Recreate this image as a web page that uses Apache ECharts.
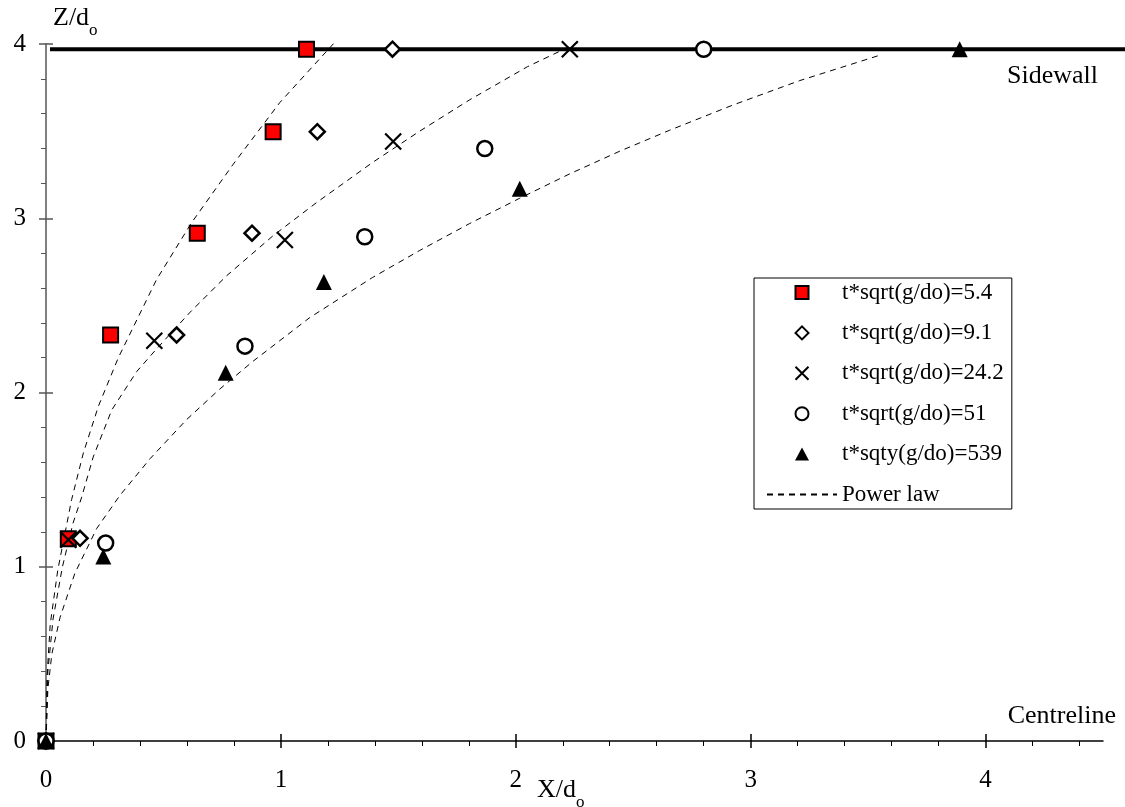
<!DOCTYPE html>
<html><head><meta charset="utf-8">
<script src="https://cdn.jsdelivr.net/npm/echarts@6/dist/echarts.min.js"></script>
<style>html,body{margin:0;padding:0;background:#fff}#c{width:1125px;height:807px}</style>
</head><body><div id="c"></div>
<script>
// ---- data ----
const xTickValues = [0, 1, 2, 3, 4];
const xMinorTickValues = [0.2,0.4,0.6,0.8,1.2,1.4,1.6,1.8,2.2,2.4,2.6,2.8,3.2,3.4,3.6,3.8,4.2,4.4];
const yTickValues = [0, 1, 2, 3, 4];
const sidewallZ = 3.97;
const sidewallStartX = 0.017;
const sidewallEndX = 4.6;

const seriesNames = ['t*sqrt(g/do)=5.4', 't*sqrt(g/do)=9.1', 't*sqrt(g/do)=24.2', 't*sqrt(g/do)=51', 't*sqty(g/do)=539'];
const data54  = [[0,0],[0.095,1.16],[0.275,2.33],[0.644,2.914],[0.967,3.497],[1.109,3.97]];
const data91  = [[0,0],[0.145,1.163],[0.556,2.33],[0.877,2.914],[1.155,3.497],[1.475,3.97]];
const data242 = [[0,0],[0.095,1.155],[0.461,2.297],[1.017,2.875],[1.478,3.44],[2.23,3.97]];
const data51  = [[0,0],[0.254,1.136],[0.847,2.266],[1.357,2.894],[1.868,3.40],[2.80,3.97]];
const data539 = [[0,0],[0.244,1.059],[0.765,2.113],[1.183,2.634],[2.017,3.17],[3.89,3.97]];

const powerLaw1 = [[0,0],[0.004,0.36],[0.018,0.67],[0.05,0.98],[0.109,1.385],[0.159,1.653],[0.223,1.921],[0.308,2.2],[0.471,2.649],[0.62,2.975],[0.797,3.31],[0.996,3.665],[1.243,4.03]];
const powerLaw2 = [[0,0],[0.008,0.40],[0.03,0.70],[0.07,1.0],[0.115,1.25],[0.152,1.40],[0.201,1.63],[0.28,1.90],[0.386,2.12],[0.464,2.24],[0.613,2.46],[0.769,2.67],[0.967,2.90],[1.152,3.09],[1.39,3.32],[1.591,3.50],[1.804,3.68],[2.05,3.87],[2.33,4.05]];
const powerLaw3 = [[0,0],[0.008,0.3],[0.025,0.5],[0.06,0.71],[0.123,0.963],[0.216,1.22],[0.315,1.41],[0.443,1.62],[0.599,1.845],[0.74,2.02],[0.882,2.18],[1.123,2.43],[1.39,2.66],[1.591,2.815],[1.804,2.97],[2.017,3.115],[2.23,3.255],[2.443,3.385],[2.655,3.505],[2.925,3.65],[3.209,3.79],[3.56,3.94]];

// ---- styles ----
const FONT = 'Liberation Serif';
const SYM_SQUARE = 'path://M0,0L14,0L14,14L0,14Z';
const SYM_DIAMOND = 'path://M7,0L14,7L7,14L0,7Z';
const SYM_CROSS = 'path://M0,0L14,14M14,0L0,14';
const SYM_TRI = 'path://M7,0L14,13L0,13Z';

const chart = echarts.init(document.getElementById('c'), null, {renderer: 'canvas'});

function powerSeries(d) {
  return {
    name: 'Power law', type: 'line', data: d, symbol: 'none', smooth: false,
    itemStyle: {color: 'rgba(0,0,0,0)'},
    lineStyle: {color: '#000', width: 1, type: [6, 5]}, z: 2, silent: true
  };
}
function scatterSeries(name, d, symbol, size, itemStyle) {
  return {name, type: 'scatter', data: d, symbol, symbolSize: size,
    itemStyle: Object.assign({opacity: 1}, itemStyle), z: 5, silent: true};
}

const option = {
  animation: false,
  backgroundColor: '#fff',
  grid: {left: 46, right: 22, top: 44, bottom: 66, containLabel: false},
  xAxis: [
    {type: 'value', min: 0, max: 4.5, interval: 1,
      axisLine: {show: true, lineStyle: {color: '#000', width: 1.5}},
      axisTick: {show: true, inside: false, length: 7, customValues: xTickValues, lineStyle: {color: '#000', width: 1.5}},
      axisLabel: {show: true, customValues: xTickValues, margin: 27, fontFamily: FONT, fontSize: 25, color: '#000'},
      splitLine: {show: false}},
    {type: 'value', min: 0, max: 4.5, interval: 1, position: 'bottom',
      axisLine: {show: false},
      axisTick: {show: true, inside: true, length: 7, customValues: xTickValues, lineStyle: {color: '#000', width: 1.5}},
      axisLabel: {show: false}, splitLine: {show: false}},
    {type: 'value', min: 0, max: 4.5, interval: 1, position: 'bottom',
      axisLine: {show: false},
      axisTick: {show: true, inside: false, length: 5, customValues: xMinorTickValues, lineStyle: {color: '#000', width: 1}},
      axisLabel: {show: false}, splitLine: {show: false}}
  ],
  yAxis: [
    {type: 'value', min: 0, max: 4, interval: 1,
      axisLine: {show: true, lineStyle: {color: '#808080', width: 2}},
      axisTick: {show: true, inside: false, length: 7, customValues: yTickValues, lineStyle: {color: '#555', width: 1.5}},
      minorTick: {show: true, splitNumber: 5, length: 5, lineStyle: {color: '#555', width: 1}},
      axisLabel: {show: true, customValues: yTickValues, margin: 20, fontFamily: FONT, fontSize: 25, color: '#000'},
      splitLine: {show: false}},
    {type: 'value', min: 0, max: 4, interval: 1, position: 'left',
      axisLine: {show: false},
      axisTick: {show: true, inside: true, length: 7, customValues: yTickValues, lineStyle: {color: '#555', width: 1.5}},
      axisLabel: {show: false}, splitLine: {show: false}}
  ],
  legend: {
    orient: 'vertical', left: 754, top: 278,
    padding: [3, 8, 3, 12], itemGap: 17.4, itemWidth: 70, itemHeight: 13,
    borderColor: '#000', borderWidth: 1, backgroundColor: '#fff',
    textStyle: {fontFamily: FONT, fontSize: 23, color: '#000'},
    selectedMode: false,
    data: seriesNames.concat(['Power law'])
  },
  series: [
    powerSeries(powerLaw1), powerSeries(powerLaw2), powerSeries(powerLaw3),
    scatterSeries(seriesNames[0], data54, SYM_SQUARE, 15, {color: '#ff0000', borderColor: '#000', borderWidth: 2}),
    scatterSeries(seriesNames[1], data91, SYM_DIAMOND, 15, {color: '#fff', borderColor: '#000', borderWidth: 2.5}),
    scatterSeries(seriesNames[2], data242, SYM_CROSS, 16, {color: 'rgba(0,0,0,0)', borderColor: '#000', borderWidth: 2.2}),
    scatterSeries(seriesNames[3], data51, 'circle', 15, {color: '#fff', borderColor: '#000', borderWidth: 2.5}),
    scatterSeries(seriesNames[4], data539, SYM_TRI, 16, {color: '#000', borderColor: '#000', borderWidth: 0})
  ],
  graphic: [
    {type: 'text', x: 53, y: 22, style: {text: '{a|Z/d}{b|o}', fill: '#000', verticalAlign: 'middle',
      rich: {a: {fontFamily: FONT, fontSize: 26, lineHeight: 34, verticalAlign: 'top'},
             b: {fontFamily: FONT, fontSize: 17, lineHeight: 17, verticalAlign: 'bottom'}}}},
    {type: 'text', x: 537, y: 794, style: {text: '{a|X/d}{b|o}', fill: '#000', verticalAlign: 'middle',
      rich: {a: {fontFamily: FONT, fontSize: 26, lineHeight: 34, verticalAlign: 'top'},
             b: {fontFamily: FONT, fontSize: 17, lineHeight: 17, verticalAlign: 'bottom'}}}},
    {type: 'text', x: 1098, y: 76, style: {text: 'Sidewall', fill: '#000', font: '26px "Liberation Serif"', align: 'right', verticalAlign: 'middle'}},
    {type: 'text', x: 1116, y: 716, style: {text: 'Centreline', fill: '#000', font: '26px "Liberation Serif"', align: 'right', verticalAlign: 'middle'}}
  ]
};
chart.setOption(option);

// Sidewall reference line: positioned through the chart's own scale
const p1 = chart.convertToPixel({xAxisIndex: 0, yAxisIndex: 0}, [sidewallStartX, sidewallZ]);
const p2 = chart.convertToPixel({xAxisIndex: 0, yAxisIndex: 0}, [sidewallEndX, sidewallZ]);
option.graphic.push({type: 'line', z: 3, shape: {x1: p1[0], y1: p1[1], x2: p2[0], y2: p2[1]},
  style: {stroke: '#000', lineWidth: 4}, silent: true});
chart.setOption({graphic: option.graphic});
</script>
</body></html>
